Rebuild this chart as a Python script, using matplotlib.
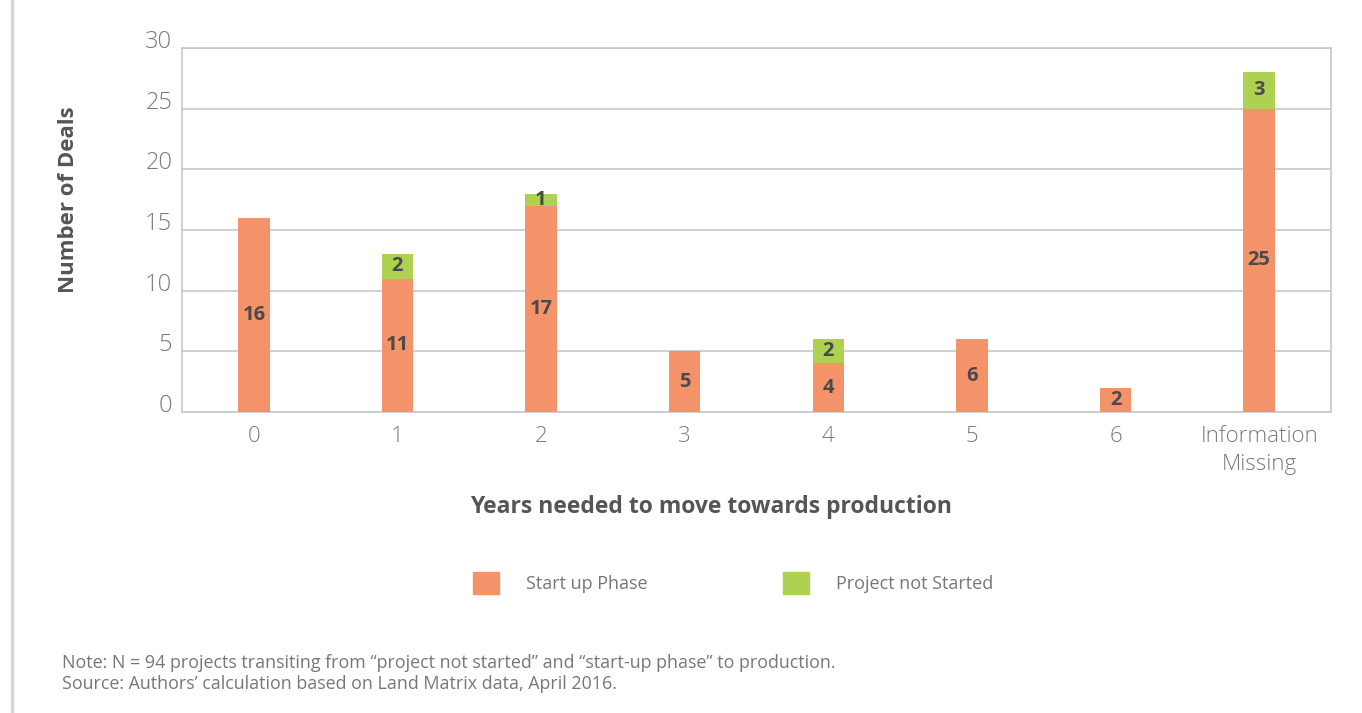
import matplotlib.pyplot as plt
from matplotlib.lines import Line2D
from matplotlib.patches import Patch

plt.rcParams["font.family"] = ["Open Sans", "DejaVu Sans"]

categories = ["0", "1", "2", "3", "4", "5", "6", "Information\nMissing"]
start_up = [16, 11, 17, 5, 4, 6, 2, 25]
not_started = [0, 2, 1, 0, 2, 0, 0, 3]

ORANGE = "#F4936A"
GREEN = "#AED151"
LABEL = "#4a4a4a"
GRID = "#c8c8c8"
TICK = "#7a7a7a"

fig = plt.figure(figsize=(13.62, 7.13), dpi=100)
ax = fig.add_axes([182 / 1362, 1 - 412 / 713, 1149 / 1362, 364 / 713])

x = range(len(categories))
width = 0.22
ax.bar(x, start_up, width=width, color=ORANGE, zorder=3)
ax.bar(x, not_started, width=width, bottom=start_up, color=GREEN, zorder=3)

for i, (a, b) in enumerate(zip(start_up, not_started)):
    ax.text(i, a / 2, str(a), ha="center", va="center", fontsize=14.5,
            fontweight="bold", color=LABEL, zorder=4)
    if b:
        ax.text(i, a + b / 2, str(b), ha="center", va="center", fontsize=14.5,
                fontweight="bold", color=LABEL, zorder=4)

ax.set_xlim(-0.5, len(categories) - 0.5)
ax.set_ylim(0, 30)
ax.set_yticks(range(0, 31, 5))
ax.set_xticks(list(x))
ax.set_xticklabels(categories, linespacing=1.45)
ax.yaxis.grid(True, color=GRID, linewidth=1.2, zorder=0)
ax.tick_params(axis="both", length=0, labelsize=16, labelcolor=TICK)
ax.tick_params(axis="y", labelsize=17, pad=7)
ax.tick_params(axis="x", pad=10)
for label in ax.get_yticklabels():
    label.set_fontweight("light")
    label.set_va("baseline")
for label in ax.get_xticklabels():
    label.set_fontweight("light")
for side in ["left", "right", "top", "bottom"]:
    ax.spines[side].set_color(GRID)
    ax.spines[side].set_linewidth(1.2)

fig.text(711 / 1362, 1 - 507 / 713, "Years needed to move towards production",
         ha="center", va="center", fontsize=16.5, fontweight="bold", color="#555555")
fig.text(68 / 1362, 1 - 200 / 713, "Number of Deals", rotation=90,
         ha="center", va="center", fontsize=16, fontweight="bold", color="#555555")

handles = [Patch(color=ORANGE), Patch(color=GREEN)]
fig.legend(handles, ["Start up Phase", "Project not Started"], ncol=2,
           loc="center", bbox_to_anchor=(733 / 1362, 1 - 583 / 713),
           frameon=False, fontsize=13, labelcolor="#777777",
           handlelength=1.45, handleheight=1.45, handletextpad=1.5,
           columnspacing=7.5)

fig.text(62 / 1362, 1 - 663 / 713,
         "Note: N = 94 projects transiting from \u201cproject not started\u201d and "
         "\u201cstart-up phase\u201d to production.",
         ha="left", va="center", fontsize=12.9, color="#777777")
fig.text(62 / 1362, 1 - 684 / 713,
         "Source: Authors\u2019 calculation based on Land Matrix data, April 2016.",
         ha="left", va="center", fontsize=12.9, color="#777777")

fig.add_artist(Line2D([12 / 1362, 12 / 1362], [0, 1], color="#d6d6d6",
                      linewidth=2.5, transform=fig.transFigure))

fig.savefig("out.png", dpi=100)
